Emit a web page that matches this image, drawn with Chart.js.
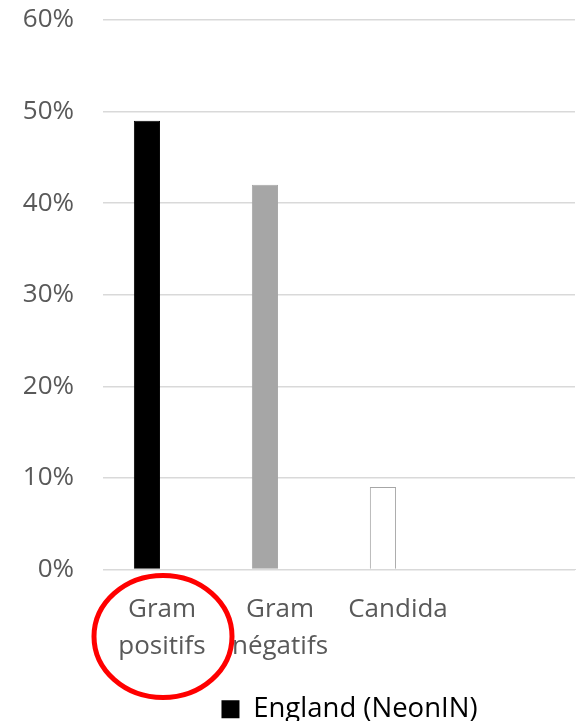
<!DOCTYPE html>
<html>
<head>
<meta charset="utf-8">
<script src="https://cdn.jsdelivr.net/npm/chart.js@4.4.1/dist/chart.umd.min.js"></script>
<style>
  html, body { margin: 0; padding: 0; background: #ffffff; }
  #wrap { width: 577px; height: 721px; position: relative; }
</style>
</head>
<body>
<div id="wrap"><canvas id="c" width="577" height="721"></canvas></div>
<script>
// ---- data ----
const categories = [["Gram", "positifs"], ["Gram", "négatifs"], "Candida", ""];
const englandValues = [49, 42, 9, null];
const otherValues = [null, null, null, null]; // second (hidden) series slot
const barColors = ["#000000", "#A6A6A6", "#FFFFFF", "#FFFFFF"];
const barBorders = ["#000000", "#A6A6A6", "#A6A6A6", "#A6A6A6"];
const yTicks = [0, 10, 20, 30, 40, 50, 60];
const seriesName = "England (NeonIN)";

const FONT = "'Open Sans', 'DejaVu Sans', sans-serif";
const TEXT = "#595959";

const ellipsePlugin = {
  id: 'ellipse',
  afterDraw(chart) {
    const ctx = chart.ctx;
    const x = chart.scales.x.getPixelForValue(0);
    const y = chart.chartArea.bottom + 67;
    ctx.save();
    ctx.beginPath();
    ctx.ellipse(x + 1, y, 69, 61, 0, 0, Math.PI * 2);
    ctx.lineWidth = 5;
    ctx.strokeStyle = "#FF0000";
    ctx.stroke();
    ctx.restore();
  }
};

const legendShift = {
  id: 'legendShift',
  afterLayout(chart) {
    const lg = chart.legend;
    if (lg) { lg.left += 62; lg.right += 62; lg.top += 12; lg.bottom += 12; }
  }
};

new Chart(document.getElementById('c'), {
  type: 'bar',
  data: {
    labels: categories,
    datasets: [
      {
        label: seriesName,
        data: englandValues,
        backgroundColor: barColors,
        borderColor: barBorders,
        borderWidth: 1,
        categoryPercentage: 0.51,
        barPercentage: 0.87
      },
      {
        label: "",
        data: otherValues,
        backgroundColor: "#FFFFFF",
        categoryPercentage: 0.51,
        barPercentage: 0.87
      }
    ]
  },
  options: {
    responsive: false,
    animation: false,
    devicePixelRatio: 1,
    layout: { padding: { left: 0, right: 2, top: 0, bottom: 0 } },
    plugins: {
      legend: {
        position: 'bottom',
        labels: {
          generateLabels: () => [{
            text: seriesName, fillStyle: "#000000", strokeStyle: "#000000",
            lineWidth: 0, hidden: false, datasetIndex: 0
          }],
          boxWidth: 18, boxHeight: 18,
          color: TEXT,
          font: { family: FONT, size: 27.5, lineHeight: 1.0 },
          padding: 0
        }
      },
      tooltip: { enabled: false }
    },
    scales: {
      x: {
        afterFit(scale) { scale.height = 114; },
        grid: { display: false, drawTicks: false },
        border: { display: true, color: "#D9D9D9" },
        ticks: {
          color: TEXT,
          font: { family: FONT, size: 26, lineHeight: 1.42 },
          padding: 22,
          maxRotation: 0, autoSkip: false
        }
      },
      y: {
        min: 0, max: 60,
        afterFit(scale) { scale.width = 103; scale.paddingTop = 20; scale.paddingBottom = 0; },
        afterBuildTicks(scale) { scale.ticks = yTicks.map(v => ({ value: v })); },
        grid: { color: "#D9D9D9", lineWidth: 1.5, drawTicks: false },
        border: { display: false },
        ticks: {
          color: TEXT,
          font: { family: FONT, size: 26 },
          padding: 29,
          callback: (v) => v + "%"
        }
      }
    }
  },
  plugins: [ellipsePlugin, legendShift]
});
</script>
</body>
</html>
